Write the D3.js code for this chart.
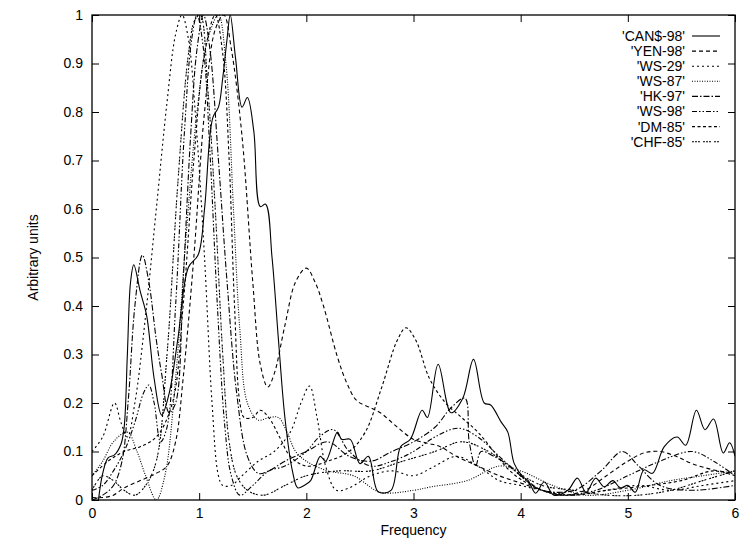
<!DOCTYPE html>
<html>
<head>
<meta charset="utf-8">
<script src="https://cdn.jsdelivr.net/npm/d3@7"></script>
<style>
  body { margin: 0; background: #fff; }
  text { font-family: "Liberation Sans", Arial, sans-serif; font-size: 14px; fill: #000; }
</style>
</head>
<body>
<div id="chart"></div>
<script>
// spectra, [frequency, arbitrary units]
const can98 = [[0.06,0],[0.1,0.055],[0.15,0.087],[0.21,0.093],[0.27,0.115],[0.3,0.15],[0.33,0.3],[0.36,0.45],[0.39,0.485],[0.45,0.43],[0.51,0.38],[0.58,0.25],[0.65,0.175],[0.72,0.22],[0.8,0.33],[0.9,0.48],[0.99,0.505],[1.05,0.6],[1.1,0.75],[1.13,0.79],[1.18,0.81],[1.22,0.87],[1.26,0.95],[1.29,1.0],[1.34,0.91],[1.4,0.81],[1.45,0.83],[1.51,0.76],[1.57,0.605],[1.62,0.61],[1.68,0.5],[1.74,0.33],[1.8,0.17],[1.87,0.06],[1.92,0.025],[1.98,0.03],[2.04,0.04],[2.13,0.09],[2.18,0.08],[2.29,0.14],[2.33,0.125],[2.41,0.125],[2.5,0.075],[2.58,0.09],[2.67,0.017],[2.79,0.02],[2.88,0.11],[2.97,0.125],[3.08,0.185],[3.13,0.17],[3.23,0.28],[3.35,0.18],[3.46,0.21],[3.56,0.29],[3.66,0.2],[3.72,0.196],[3.82,0.16],[3.88,0.14],[3.94,0.075],[4.02,0.048],[4.07,0.04],[4.14,0.014],[4.22,0.037],[4.31,0.01],[4.44,0.02],[4.53,0.045],[4.61,0.016],[4.7,0.045],[4.78,0.027],[4.86,0.04],[4.93,0.025],[5.0,0.03],[5.07,0.016],[5.15,0.062],[5.23,0.055],[5.34,0.11],[5.46,0.13],[5.54,0.113],[5.64,0.185],[5.72,0.145],[5.8,0.167],[5.89,0.097],[5.95,0.118],[6.0,0.09]];

const yen98 = [[0,0.005],[0.1,0.005],[0.2,0.01],[0.3,0.025],[0.45,0.04],[0.6,0.055],[0.7,0.07],[0.78,0.12],[0.85,0.25],[0.95,0.5],[1.05,0.8],[1.15,0.97],[1.23,1.0],[1.3,0.93],[1.4,0.75],[1.5,0.45],[1.57,0.28],[1.64,0.233],[1.7,0.26],[1.8,0.36],[1.9,0.45],[2.0,0.478],[2.08,0.45],[2.16,0.4],[2.29,0.295],[2.38,0.24],[2.47,0.205],[2.6,0.19],[2.69,0.18],[2.85,0.15],[3.0,0.125],[3.13,0.117],[3.25,0.11],[3.4,0.09],[3.6,0.07],[3.8,0.05],[4.0,0.035],[4.2,0.02],[4.4,0.01],[4.6,0.02],[4.8,0.05],[5.0,0.08],[5.15,0.097],[5.3,0.1],[5.45,0.09],[5.6,0.075],[5.8,0.062],[6.0,0.055]];

const ws29 = [[0,0.1],[0.1,0.13],[0.21,0.2],[0.27,0.16],[0.33,0.13],[0.4,0.2],[0.5,0.38],[0.6,0.6],[0.7,0.82],[0.78,0.96],[0.84,1.0],[0.9,0.95],[0.97,0.78],[1.05,0.5],[1.12,0.2],[1.18,0.05],[1.22,0.03],[1.3,0.03],[1.4,0.05],[1.55,0.08],[1.7,0.1],[1.85,0.14],[1.95,0.2],[2.03,0.235],[2.1,0.17],[2.18,0.07],[2.28,0.02],[2.4,0.025],[2.6,0.05],[2.8,0.06],[3.0,0.05],[3.2,0.07],[3.4,0.09],[3.6,0.07],[3.8,0.04],[4.0,0.03],[4.2,0.02],[4.5,0.01],[4.8,0.02],[5.1,0.03],[5.4,0.02],[5.7,0.03],[6.0,0.04]];

const ws87 = [[0,0.05],[0.1,0.08],[0.2,0.12],[0.33,0.14],[0.42,0.1],[0.5,0.05],[0.6,0.0],[0.68,0.05],[0.78,0.25],[0.88,0.55],[0.98,0.8],[1.08,0.95],[1.18,1.0],[1.25,0.9],[1.32,0.6],[1.38,0.35],[1.45,0.2],[1.55,0.165],[1.65,0.17],[1.74,0.17],[1.82,0.14],[1.9,0.1],[2.0,0.08],[2.2,0.06],[2.44,0.05],[2.69,0.016],[3.0,0.02],[3.16,0.027],[3.5,0.04],[3.8,0.07],[4.0,0.06],[4.3,0.03],[4.6,0.01],[5.0,0.02],[5.4,0.04],[5.7,0.05],[6.0,0.06]];

const hk97 = [[0,0],[0.1,0.01],[0.2,0.03],[0.28,0.08],[0.34,0.21],[0.4,0.4],[0.47,0.505],[0.53,0.45],[0.6,0.33],[0.65,0.26],[0.72,0.18],[0.78,0.2],[0.85,0.45],[0.92,0.75],[0.98,0.93],[1.04,1.0],[1.1,0.93],[1.18,0.7],[1.26,0.45],[1.35,0.22],[1.45,0.09],[1.55,0.055],[1.65,0.06],[1.8,0.08],[2.0,0.1],[2.2,0.12],[2.4,0.09],[2.6,0.08],[2.8,0.1],[3.0,0.12],[3.2,0.15],[3.35,0.19],[3.48,0.21],[3.52,0.12],[3.58,0.07],[3.63,0.1],[3.75,0.09],[3.9,0.07],[4.05,0.04],[4.2,0.02],[4.5,0.02],[4.75,0.06],[4.95,0.1],[5.1,0.07],[5.3,0.03],[5.6,0.02],[6.0,0.03]];

const ws98 = [[0,0.02],[0.1,0.03],[0.2,0.06],[0.3,0.1],[0.4,0.16],[0.48,0.22],[0.53,0.237],[0.58,0.2],[0.64,0.12],[0.7,0.15],[0.78,0.4],[0.86,0.75],[0.93,0.95],[0.98,1.0],[1.04,0.93],[1.1,0.72],[1.17,0.4],[1.24,0.15],[1.3,0.05],[1.38,0.01],[1.5,0.03],[1.65,0.06],[1.8,0.07],[2.0,0.1],[2.12,0.13],[2.25,0.145],[2.4,0.1],[2.6,0.07],[2.8,0.08],[3.0,0.1],[3.2,0.13],[3.42,0.148],[3.6,0.13],[3.8,0.09],[4.0,0.05],[4.2,0.02],[4.4,0.01],[4.7,0.02],[5.0,0.05],[5.3,0.08],[5.6,0.1],[5.8,0.08],[6.0,0.05]];

const dm85 = [[0,0.05],[0.15,0.08],[0.3,0.1],[0.45,0.11],[0.6,0.13],[0.75,0.2],[0.85,0.4],[0.95,0.7],[1.05,0.92],[1.15,1.0],[1.22,0.92],[1.28,0.7],[1.33,0.4],[1.38,0.2],[1.42,0.17],[1.5,0.17],[1.57,0.185],[1.65,0.17],[1.75,0.13],[1.85,0.09],[2.0,0.07],[2.2,0.08],[2.4,0.1],[2.55,0.14],[2.7,0.23],[2.85,0.33],[2.93,0.355],[3.02,0.33],[3.15,0.25],[3.3,0.2],[3.45,0.17],[3.6,0.14],[3.75,0.1],[3.9,0.06],[4.1,0.03],[4.4,0.01],[4.8,0.02],[5.2,0.03],[5.5,0.04],[5.8,0.06],[6.0,0.05]];

const chf85 = [[0,0.02],[0.1,0.05],[0.2,0.04],[0.3,0.02],[0.4,0.01],[0.5,0.03],[0.6,0.08],[0.7,0.3],[0.8,0.65],[0.9,0.92],[0.96,0.99],[1.01,1.0],[1.08,0.85],[1.15,0.6],[1.22,0.3],[1.28,0.12],[1.35,0.05],[1.45,0.02],[1.6,0.01],[1.8,0.03],[2.0,0.05],[2.3,0.06],[2.6,0.06],[2.9,0.08],[3.2,0.1],[3.45,0.12],[3.7,0.1],[3.95,0.06],[4.2,0.03],[4.5,0.02],[4.8,0.01],[5.1,0.01],[5.4,0.02],[5.7,0.04],[6.0,0.06]];

const seriesNames = ["'CAN$-98'", "'YEN-98'", "'WS-29'", "'WS-87'", "'HK-97'", "'WS-98'", "'DM-85'", "'CHF-85'"];
const seriesData = [can98, yen98, ws29, ws87, hk97, ws98, dm85, chf85];
const dashes = ['none', '4,3', '2,3', '1,1.5', '6,2,1.5,2', '5,2,1.5,2,1.5,2', '3,2.5', '2,1,2,1,2,3'];

const xTicks = [0, 1, 2, 3, 4, 5, 6];
const yTicks = [0, 0.1, 0.2, 0.3, 0.4, 0.5, 0.6, 0.7, 0.8, 0.9, 1];

const margin = {top: 15, right: 4, bottom: 42, left: 92};
const W = 739, H = 542;
const width = W - margin.left - margin.right,
  height = H - margin.top - margin.bottom;

const svg = d3.select('#chart')
  .append('svg')
  .attr('width', W)
  .attr('height', H)
  .append('g')
  .attr('transform', 'translate(' + margin.left + ',' + margin.top + ')');

const x = d3.scaleLinear().domain([0, 6]).range([0, width]);
const y = d3.scaleLinear().domain([0, 1]).range([height, 0]);
const fmt = d3.format('~g');

//axes with inward ticks, mirrored on top and right
svg.append('g')
  .attr('transform', 'translate(0,' + height + ')')
  .call(d3.axisBottom(x).tickValues(xTicks).tickFormat(fmt).tickSizeInner(-7).tickSizeOuter(0).tickPadding(8));
svg.append('g')
  .call(d3.axisTop(x).tickValues(xTicks).tickFormat('').tickSizeInner(-7).tickSizeOuter(0));
svg.append('g')
  .call(d3.axisLeft(y).tickValues(yTicks).tickFormat(fmt).tickSizeInner(-7).tickSizeOuter(0).tickPadding(9));
svg.append('g')
  .attr('transform', 'translate(' + width + ',0)')
  .call(d3.axisRight(y).tickValues(yTicks).tickFormat('').tickSizeInner(-7).tickSizeOuter(0));

svg.selectAll('.tick text').style('font-size', '14px').style('font-family', '"Liberation Sans", Arial, sans-serif');
svg.selectAll('.domain').remove();

svg.append('defs').append('clipPath').attr('id', 'clip')
  .append('rect').attr('width', width).attr('height', height);

const line = d3.line()
  .x(function (d) { return x(d[0]); })
  .y(function (d) { return y(d[1]); })
  .curve(d3.curveCatmullRom.alpha(0.5));

svg.append('g')
  .attr('clip-path', 'url(#clip)')
  .selectAll('path')
  .data(seriesData)
  .enter().append('path')
  .attr('d', line)
  .attr('fill', 'none')
  .attr('stroke', '#000')
  .attr('stroke-width', 1.1)
  .attr('stroke-dasharray', function (d, i) { return dashes[i]; });

svg.append('rect')
  .attr('width', width)
  .attr('height', height)
  .attr('fill', 'none')
  .attr('stroke', '#000')
  .attr('stroke-width', 1.3);

//legend
const legend = svg.selectAll('.legend')
  .data(seriesNames)
  .enter().append('g')
  .attr('class', 'legend')
  .attr('transform', function (d, i) { return 'translate(0,' + (21 + i * 15.1) + ')'; });

legend.append('text')
  .attr('x', 593)
  .attr('dy', '0.35em')
  .attr('text-anchor', 'end')
  .text(function (d) { return d; });

legend.append('line')
  .attr('x1', 600)
  .attr('x2', 628)
  .attr('stroke', '#000')
  .attr('stroke-width', 1.1)
  .attr('stroke-dasharray', function (d, i) { return dashes[i]; });

//axis titles
svg.append('text')
  .attr('x', width / 2)
  .attr('y', height + 35)
  .attr('text-anchor', 'middle')
  .text('Frequency');

svg.append('text')
  .attr('transform', 'translate(' + (-54) + ',' + (height / 2) + ') rotate(-90)')
  .attr('text-anchor', 'middle')
  .text('Arbitrary units');
</script>
</body>
</html>
